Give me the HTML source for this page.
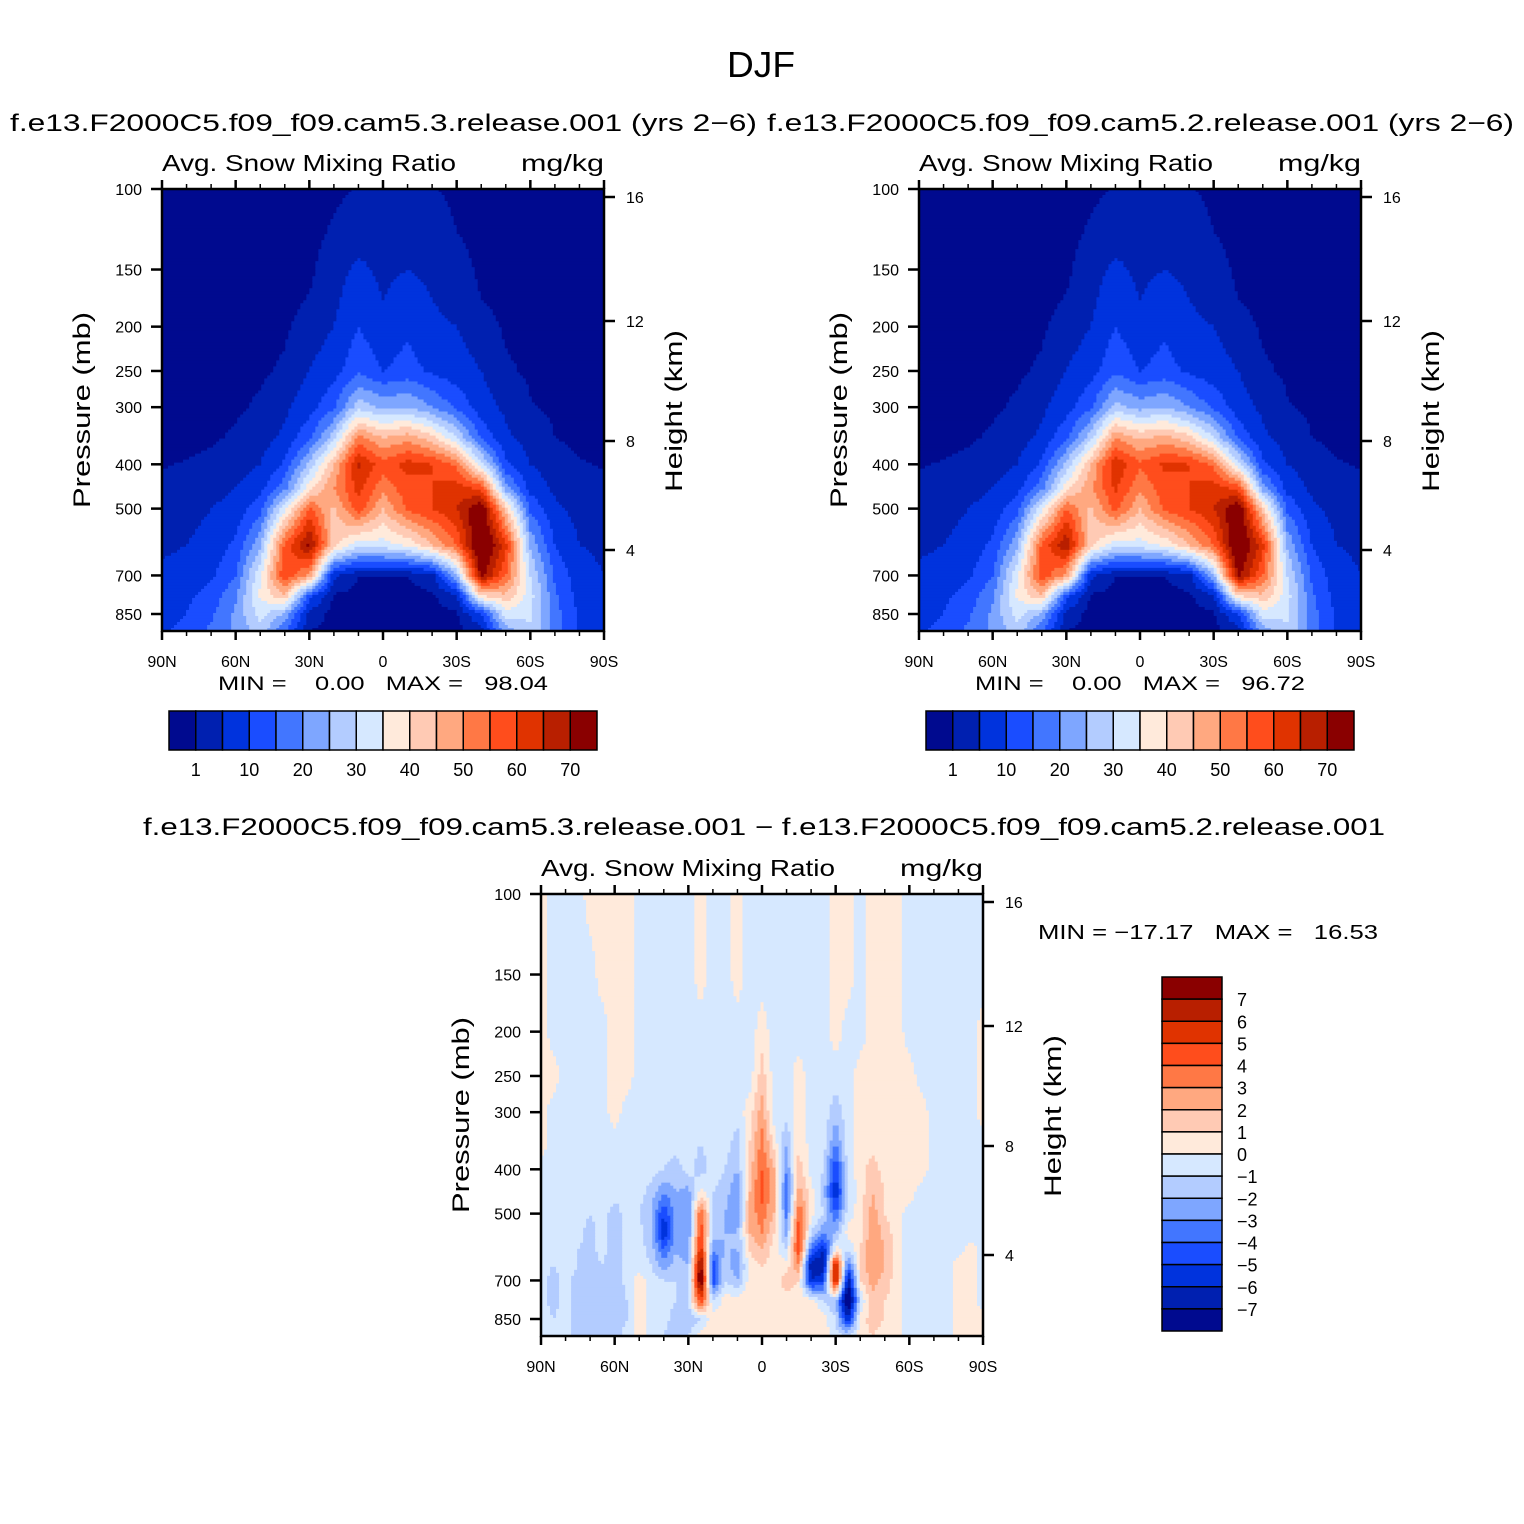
<!DOCTYPE html>
<html><head><meta charset="utf-8"><style>
html,body{margin:0;padding:0;background:#fff}
svg{display:block}
text{font-family:"Liberation Sans",sans-serif;fill:#000}
</style></head><body>
<svg id="fig" width="1524" height="1524" viewBox="0 0 1524 1524" xmlns="http://www.w3.org/2000/svg">
<text x="761" y="77" font-size="36" text-anchor="middle" textLength="68" lengthAdjust="spacingAndGlyphs">DJF</text>
<text x="10" y="131" font-size="24" textLength="747" lengthAdjust="spacingAndGlyphs">f.e13.F2000C5.f09_f09.cam5.3.release.001 (yrs 2−6)</text>
<text x="767" y="131" font-size="24" textLength="747" lengthAdjust="spacingAndGlyphs">f.e13.F2000C5.f09_f09.cam5.2.release.001 (yrs 2−6)</text>
<text x="143" y="835" font-size="24" textLength="1242" lengthAdjust="spacingAndGlyphs">f.e13.F2000C5.f09_f09.cam5.3.release.001 − f.e13.F2000C5.f09_f09.cam5.2.release.001</text>
<g id="layer"></g>
</svg>
<script>
const colors=["#000a8f","#0020b0","#0033dd","#1a4dff","#4276ff","#7ea6ff","#b3ccff","#d6e8ff","#ffeadb","#ffcab4","#ffa880","#ff7845","#ff4d1c","#e03300","#b81f00","#8a0000"];
const absLevels=[1,5,10,15,20,25,30,35,40,45,50,55,60,65,70];
const absLevelLabels=["1","10","20","30","40","50","60","70"];
const diffLevels=[-7,-6,-5,-4,-3,-2,-1,0,1,2,3,4,5,6,7];
const diffLevelLabels=["7","6","5","4","3","2","1","0","−1","−2","−3","−4","−5","−6","−7"];
const pressureTicks=[100,150,200,250,300,400,500,700,850];
const heightTicks=[16,12,8,4];
const latTicks=[90,60,30,0,-30,-60,-90];
const latTickLabels=["90N","60N","30N","0","30S","60S","90S"];
const absLats=[90,80,70,60,50,40,30,20,10,0,-10,-20,-30,-40,-50,-60,-70,-80,-90];
const absPres=[100,125,150,175,200,250,300,350,400,450,500,600,700,775,850,925];
const cam53=[
[0,0,0,0,0,0,0,0.3,1.2,1.5,1.5,1.2,0.3,0,0,0,0,0,0],
[0,0,0,0,0,0,0,1.5,3,3,3.5,3,1,0,0,0,0,0,0],
[0,0,0,0,0,0,0.3,3,6,4,5,4,2.5,0.3,0,0,0,0,0],
[0,0,0,0,0,0,1.2,4,8,5,7,5,3.5,1,0,0,0,0,0],
[0,0,0,0,0,0.5,2.5,5,10,6,9,6,5,2.5,0.5,0,0,0,0],
[0,0,0,0,0.5,1.5,5,8,14,10,12,9,7,5,1.5,0.5,0,0,0],
[0,0,0,0.5,1.5,4,8,14,28,24,25,20,14,7,4,1.2,0.5,0,0],
[0,0,0.5,1.5,3,6,14,28,52,45,48,42,30,14,6,3,1,0.3,0],
[0.8,1.2,2,3,5,11,26,45,66,57,62,60,54,32,11,5,2.5,1.2,0.8],
[1.5,2,3,5,8,18,38,50,62,52,58,60,62,58,22,8,4,2,1.5],
[2.5,3,5,7,13,33,56,44,58,45,56,60,65,76,42,14,6,3.5,2.5],
[4,5,7,11,24,56,72,42,32,33,36,45,55,80,62,24,10,5,4],
[6,7,9,15,34,60,48,6,1,1,1,3,25,72,55,30,14,7,5],
[7,9,12,19,36,44,12,0.5,0,0,0,0.5,4,40,44,32,16,8,6],
[8,10,14,21,32,24,3,0,0,0,0,0,0.5,10,33,31,17,9,6],
[9,12,16,21,28,16,1,0,0,0,0,0,0,3,22,29,18,9,6]];
const cam52=[
[0,0,0,0,0,0,0,0.3,1.2,1.5,1.5,1.2,0.3,0,0,0,0,0,0],
[0,0,0,0,0,0,0,1.5,3,3,3.5,3,1,0,0,0,0,0,0],
[0,0,0,0,0,0,0.3,3,6,4,5,4,2.5,0.3,0,0,0,0,0],
[0,0,0,0,0,0,1.2,4,8,5,7,5,3.5,1,0,0,0,0,0],
[0,0,0,0,0,0.5,2.5,5,10,6,9,6,5,2.5,0.5,0,0,0,0],
[0,0,0,0,0.5,1.5,5,8,14,10,12,9,7,5,1.5,0.5,0,0,0],
[0,0,0,0.5,1.5,4,8,14,27,23,25,20,14,7,4,1.2,0.5,0,0],
[0,0,0.5,1.5,3,6,14,28,50,44,47,42,30,14,6,3,1,0.3,0],
[0.8,1.2,2,3,5,11,26,45,64,56,61,60,54,32,11,5,2.5,1.2,0.8],
[1.5,2,3,5,8,18,38,49,61,51,58,60,62,58,22,8,4,2,1.5],
[2.5,3,5,7,13,33,55,44,57,45,56,60,65,76,42,14,6,3.5,2.5],
[4,5,7,11,24,56,70,42,32,33,36,45,55,79,62,24,10,5,4],
[6,7,9,15,34,59,48,6,1,1,1,3,25,72,55,30,14,7,5],
[7,9,12,19,36,44,12,0.5,0,0,0,0.5,4,40,44,32,16,8,6],
[8,10,14,21,32,24,3,0,0,0,0,0,0.5,10,33,31,17,9,6],
[9,12,16,21,28,16,1,0,0,0,0,0,0,3,22,29,18,9,6]];
const diffLats=[90,85,80,75,70,65,60,55,50,45,40,35,30,25,20,15,10,5,0,-5,-10,-15,-20,-25,-30,-35,-40,-45,-50,-55,-60,-65,-70,-75,-80,-85,-90];
const diffPres=[100,150,200,250,300,350,400,450,500,550,600,650,700,775,850,925];
const diffVals=[
[.5,-.5,-.5,-.5,.5,.5,.5,.5,-.5,-.5,-.5,-.5,-.5,.5,-.5,-.5,.5,-.5,-.5,-.5,-.5,-.5,-.5,-.5,.5,.5,-.5,.5,.5,.5,-.5,-.5,-.5,-.5,-.5,-.5,-.5],
[.5,-.5,-.5,-.5,-.5,.5,.5,.5,-.5,-.5,-.5,-.5,-.5,.5,-.5,-.5,.5,-.5,-.5,-.5,-.5,-.5,-.5,-.5,.5,.5,-.5,.5,.5,.5,-.5,-.5,-.5,-.5,-.5,-.5,-.5],
[.5,-.5,-.5,-.5,-.5,-.5,.5,.5,-.5,-.5,-.5,-.5,-.5,-.5,-.5,-.5,-.5,-.5,.5,-.5,-.5,-.5,-.5,-.5,.5,-.5,-.5,.5,.5,.5,-.5,-.5,-.5,-.5,-.5,-.5,.5],
[.5,.5,-.5,-.5,-.5,-.5,.5,.5,-.5,-.5,-.5,-.5,-.5,-.5,-.5,-.5,-.5,-.5,1.5,-.5,-.5,.5,-.5,-.5,-.5,-.5,.5,.5,.5,.5,.5,-.5,-.5,-.5,-.5,-.5,.5],
[.5,-.5,-.5,-.5,-.5,-.5,.5,-.5,-.5,-.5,-.5,-.5,-.5,-.5,-.5,-.5,-.5,.5,2.5,-.5,-.5,.5,-.5,-.5,-1.5,-.5,.5,.5,.5,.5,.5,.5,-.5,-.5,-.5,-.5,.5],
[.5,-.5,-.5,-.5,-.5,-.5,-.5,-.5,-.5,-.5,-.5,-.5,-.5,-1,-.5,-.5,-1.5,1,3.5,.5,-2,1,-.5,-.5,-3,-.5,.5,.5,.5,.5,.5,.5,-.5,-.5,-.5,-.5,-.5],
[-.5,-.5,-.5,-.5,-.5,-.5,-.5,-.5,-.5,-.5,-1,-1.5,-.5,-1.5,-.5,-1,-2,1.5,4,2,-3,1.5,-.5,-1,-5,-.5,.5,1.5,.5,.5,.5,.5,-.5,-1,-.5,-.5,-.5],
[-.5,-.5,-.5,-.5,-.5,-.5,-.5,-1,-.5,-1.5,-3,-2,-2.5,.5,-1,-1.5,-3,2,4.5,2,-4,2.5,.5,-1.5,-6,-1,.5,2,1,.5,.5,-.5,-.5,-1,-.5,-.5,-.5],
[-.5,-.5,-.5,-.5,-1,-.5,-1.5,-.5,-1,-2,-5,-2.5,-3,4,-1,-2,-3,2.5,3.5,2,-3.5,4,.5,-1,-4,-.5,.5,2.5,1,.5,-.5,-.5,-1,-.5,-.5,-.5,-.5],
[-.5,-.5,-.5,-.5,-1.5,-.5,-1.5,-.5,-.5,-2,-6,-2.5,-3,5,-1.5,-2,-2,2,3,1,-2.5,5,-1,-3,-2,.5,.5,3,1.5,.5,-.5,-1,-.5,-.5,-.5,-.5,-.5],
[-.5,-.5,-.5,-1,-1.5,-.5,-2,-.5,-.5,-1.5,-4,-2,-3,6,-3,-2,-2,1,2,.5,-1,5,-4,-6,.5,-1,1,3,2,.5,-.5,-1,-.5,-.5,-.5,.5,-.5],
[-.5,-1,-.5,-1,-1.5,-1,-2,-.5,-.5,-1,-2.5,-1.5,-2,8,-5,-1,-3,.5,1,.5,.5,3,-7,-7,7,-4,1,3,2,.5,-.5,-.5,-.5,-.5,.5,.5,-.5],
[-.5,-1.5,-.5,-1.5,-2,-1,-2,-.5,.5,-.5,-1,-1,-2,9,-5,-1,-2,.5,.5,.5,1.5,1,-6,-5,7,-7,1,2.5,1.5,.5,-.5,-.5,-.5,-.5,.5,.5,-.5],
[-.5,-1.5,-.5,-2,-2,-1,-2,-1,.5,-.5,-.5,-1,-1,5,-1,.5,.5,.5,.5,.5,.5,.5,.5,-1,-2,-9,-1,1.5,1,.5,-.5,-.5,-.5,-.5,.5,.5,-.5],
[-.5,-1,-.5,-2,-1.5,-1,-2,-1,.5,-.5,-.5,-1.5,-2,-1,.5,.5,.5,.5,.5,.5,.5,.5,.5,.5,-1,-6,.5,1.5,1,.5,-.5,-.5,-.5,-.5,.5,.5,.5],
[-.5,-1,-.5,-1.5,-1.5,-1,-1.5,-.5,.5,-.5,-1,-2,-1,.5,.5,.5,.5,.5,.5,.5,.5,.5,.5,.5,-.5,-1,.5,1,.5,.5,-.5,-.5,-.5,-.5,.5,.5,.5]];

const NS="http://www.w3.org/2000/svg";
const layer=document.getElementById('layer');
function mk(tag,attrs,parent){const e=document.createElementNS(NS,tag);for(const k in attrs)e.setAttribute(k,attrs[k]);(parent||layer).appendChild(e);return e;}
function txt(s,x,y,size,anchor,parent){const t=mk('text',{x:x,y:y,'font-size':size,'text-anchor':anchor||'start'},parent);t.textContent=s;return t;}
function levelIndex(v,levels){let k=0;while(k<levels.length&&v>=levels[k])k++;return k;}

function panel(name,x0,y0,grid,lats,pres,levels){
  const W=442,H=442,y850=y0+425;
  const g=mk('g',{});
  
  
  const xOf=lat=>x0+(90-lat)/180*W;
  const yOf=p=>y0+Math.log(p/100)/Math.log(8.5)*(y850-y0);
  const cx=lats.map(xOf), cy=pres.map(yOf);
  function bracket(arr,v){let i=0;while(i<arr.length-2&&v>arr[i+1])i++;let t=(v-arr[i])/(arr[i+1]-arr[i]);t=Math.max(0,Math.min(1,t));return [i,t];}
  function val(r,c){const row=grid[r]||[];const v=row[c];return (v===undefined)?(levels===diffLevels?-0.5:0):v;}
  const field=mk('g',{},g);
  
  
  const NX=147,NY=147,dx=W/NX,dy=H/NY;
  for(let j=0;j<NY;j++){
    const py=y0+(j+0.5)*dy;const [ri,rt]=bracket(cy,py);
    let runStart=0,runK=-1;
    for(let i=0;i<=NX;i++){
      let k=-2;
      if(i<NX){const px=x0+(i+0.5)*dx;const [ci,ct]=bracket(cx,px);
        const v=(1-rt)*((1-ct)*val(ri,ci)+ct*val(ri,ci+1))+rt*((1-ct)*val(ri+1,ci)+ct*val(ri+1,ci+1));
        k=levelIndex(v,levels);}
      if(k!==runK){
        if(runK>=0){const r=mk('rect',{x:(x0+runStart*dx).toFixed(2),y:(y0+j*dy).toFixed(2),width:((i-runStart)*dx+0.6).toFixed(2),height:(dy+0.6).toFixed(2),fill:colors[runK]},field);
          
          }
        runStart=i;runK=k;}
    }
  }
  const fr=mk('rect',{x:x0,y:y0,width:W,height:H,fill:'none',stroke:'#000','stroke-width':2.5},g);
  
  
  for(let lat=90;lat>=-90;lat-=10){const x=xOf(lat);const major=(lat%30===0);const L=major?9:5;
    mk('line',{x1:x,y1:y0,x2:x,y2:y0-L,stroke:'#000','stroke-width':major?2.5:1.5},g);
    mk('line',{x1:x,y1:y0+H,x2:x,y2:y0+H+L,stroke:'#000','stroke-width':major?2.5:1.5},g);}
  latTicks.forEach((lat,i)=>{const t=txt(latTickLabels[i],xOf(lat),y0+H+36,16,'middle',g);
    
    });
  pressureTicks.forEach(p=>{const y=yOf(p);mk('line',{x1:x0,y1:y,x2:x0-11,y2:y,stroke:'#000','stroke-width':2.5},g);
    const t=txt(String(p),x0-20,y+6,16,'end',g);
    
    });
  const hy={16:8,12:132,8:252,4:361};
  heightTicks.forEach(h=>{const y=y0+hy[h];mk('line',{x1:x0+W,y1:y,x2:x0+W+11,y2:y,stroke:'#000','stroke-width':2.5},g);
    const t=txt(String(h),x0+W+22,y+6,16,'start',g);
    
    });
  const at=txt('Avg. Snow Mixing Ratio',x0,y0-18,23,'start',g);at.setAttribute('textLength','294');at.setAttribute('lengthAdjust','spacingAndGlyphs');
  
  
  const ut=txt('mg/kg',x0+W,y0-18,23,'end',g);ut.setAttribute('textLength','83');ut.setAttribute('lengthAdjust','spacingAndGlyphs');
  
  
  const pt=mk('text',{x:0,y:0,'font-size':24,'text-anchor':'middle',transform:`translate(${x0-72},${y0+221}) rotate(-90)`,textLength:196,lengthAdjust:'spacingAndGlyphs'},g);pt.textContent='Pressure (mb)';
  
  
  const ht=mk('text',{x:0,y:0,'font-size':24,'text-anchor':'middle',transform:`translate(${x0+W+78},${y0+222}) rotate(-90)`,textLength:162,lengthAdjust:'spacingAndGlyphs'},g);ht.textContent='Height (km)';
  
  
  return g;
}
function hbar(name,x0,y0,minmax){
  const g=mk('g',{});
  
  
  const bw=428/16;
  colors.forEach((c,i)=>{const r=mk('rect',{x:x0+i*bw,y:y0,width:bw,height:39,fill:c,stroke:'#000','stroke-width':1.5},g);
    
    });
  absLevelLabels.forEach((s,i)=>{const t=txt(s,x0+(2*i+1)*bw,y0+65,18,'middle',g);
    
    });
  const m=txt(minmax,x0+49,y0-21,19,'start',g);m.style.whiteSpace='pre';m.setAttribute('textLength','330');m.setAttribute('lengthAdjust','spacingAndGlyphs');
  
  
}
panel('left-panel',162,189,cam53,absLats,absPres,absLevels);
panel('right-panel',919,189,cam52,absLats,absPres,absLevels);
panel('diff-panel',541,894,diffVals,diffLats,diffPres,diffLevels);
hbar('left-colorbar',169,711,'MIN =    0.00   MAX =   98.04');
hbar('right-colorbar',926,711,'MIN =    0.00   MAX =   96.72');
(function(){
  const g=mk('g',{});
  
  
  const x0=1162,y0=977,bh=354/16;
  for(let i=0;i<16;i++){const r=mk('rect',{x:x0,y:y0+i*bh,width:60,height:bh,fill:colors[15-i],stroke:'#000','stroke-width':1.5},g);
    
    }
  diffLevelLabels.forEach((s,i)=>{const t=txt(s,x0+75,y0+(i+1)*bh+7,18,'start',g);
    
    });
  const m=txt('MIN = −17.17   MAX =   16.53',1038,939,20,'start',g);m.style.whiteSpace='pre';m.setAttribute('textLength','340');m.setAttribute('lengthAdjust','spacingAndGlyphs');
  
  
})();
</script>
</body></html>
